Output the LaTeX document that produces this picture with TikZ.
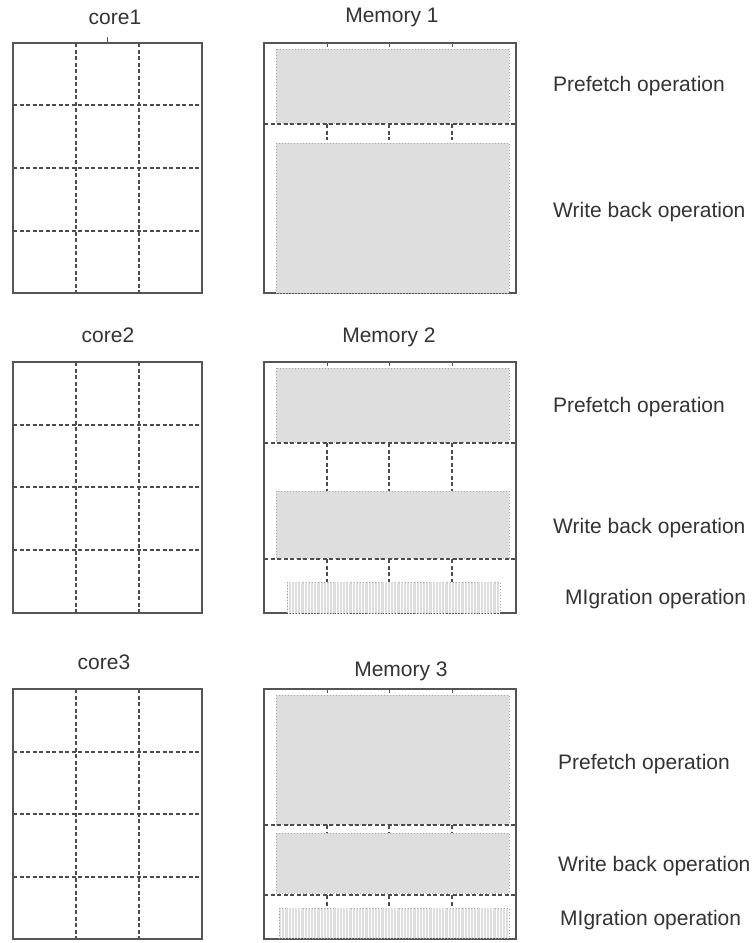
\documentclass[tikz,border=0pt]{standalone}
\usepackage{fontspec}
\setmainfont{Liberation Sans}
\usetikzlibrary{patterns.meta}
\definecolor{ink}{HTML}{333333}
\definecolor{frame}{HTML}{555555}
\definecolor{shade}{HTML}{DEDEDE}
\definecolor{shadeedge}{HTML}{A8A8A8}
\begin{document}
\begin{tikzpicture}[x=1pt,y=-1pt,
  lbl/.style={text=ink,inner sep=0pt,font=\fontsize{21}{25}\selectfont},
  oplbl/.style={lbl,anchor=west},
  boxline/.style={draw=frame,line width=1.4pt},
  gridline/.style={draw=frame!90!black,line width=1.1pt,dash pattern=on 4pt off 2.5pt},
  shaded/.style={fill=shade,draw=shadeedge,line width=1pt,dotted},
  migr/.style={fill=shade,draw=shadeedge,line width=1pt,dotted},
  stripes/.style={pattern={Lines[angle=90,distance=3.2pt,line width=0.9pt]},pattern color=white},
  tick/.style={draw=frame,line width=1pt}]
\useasboundingbox (0,0) rectangle (753,943);
\fill[white] (0,0) rectangle (753,943);

% ---------- cores ----------
\node[lbl] (core1) at (115,17) {core1};
\node[lbl] (core2) at (108,335) {core2};
\node[lbl] (core3) at (104,662) {core3};

\foreach \top/\bot/\ha/\hb/\hc in {43/293/105/168/231, 362/613/425/487/550, 689/939/752/814/877}{
  \foreach \hy in {\ha,\hb,\hc}
    \path[gridline] (13,\hy) -- (202,\hy);
  \foreach \vx in {76,139}
    \path[gridline] (\vx,\top) -- (\vx,\bot);
  \path[boxline] (13,\top) rectangle (202,\bot);
}
\path[tick] (107,37) -- (107,43);

% ---------- memory labels ----------
\node[lbl] (mem1) at (392,17) {Memory 1};
\node[lbl] (mem2) at (389,337) {Memory 2};
\node[lbl] (mem3) at (401,671) {Memory 3};

% ---------- Memory 1 ----------
\path[boxline] (264,43) rectangle (516,293);
\foreach \vx in {327,389,452} \path[tick] (\vx,43) -- (\vx,47);
\path[shaded] (276,49) rectangle (509,123);
\path[gridline] (264,124) -- (516,124);
\foreach \vx in {327,389,452} \path[gridline] (\vx,124) -- (\vx,140);
\path[shaded] (276,143) rectangle (509,293);

% ---------- Memory 2 ----------
\path[boxline] (264,362) rectangle (516,613);
\foreach \vx in {327,389,452} \path[tick] (\vx,362) -- (\vx,366);
\path[shaded] (276,368) rectangle (509,442);
\path[gridline] (264,443) -- (516,443);
\foreach \vx in {327,389,452} \path[gridline] (\vx,443) -- (\vx,491);
\path[shaded] (276,491) rectangle (509,558);
\path[gridline] (264,559) -- (516,559);
\foreach \vx in {327,389,452} \path[gridline] (\vx,559) -- (\vx,582);
\path[migr] (287,582) rectangle (500,613);
\path[stripes] (287,582) rectangle (500,613);

% ---------- Memory 3 ----------
\path[boxline] (264,689) rectangle (516,939);
\foreach \vx in {327,389,452} \path[tick] (\vx,689) -- (\vx,693);
\path[shaded] (276,695) rectangle (509,824);
\path[gridline] (264,825) -- (516,825);
\foreach \vx in {327,389,452} \path[gridline] (\vx,825) -- (\vx,833);
\path[shaded] (276,833) rectangle (509,893);
\path[gridline] (264,895) -- (516,895);
\foreach \vx in {327,389,452} \path[gridline] (\vx,895) -- (\vx,908);
\path[migr] (279,908) rectangle (509,938);
\path[stripes] (279,908) rectangle (509,938);

% ---------- operation labels ----------
\node[oplbl] (pf1) at (553,86) {Prefetch operation};
\node[oplbl] (wb1) at (553,212) {Write back operation};
\node[oplbl] (pf2) at (553,407) {Prefetch operation};
\node[oplbl] (wb2) at (553,528) {Write back operation};
\node[oplbl] (mg2) at (565,599) {MIgration operation};
\node[oplbl] (pf3) at (558,764) {Prefetch operation};
\node[oplbl] (wb3) at (558,866) {Write back operation};
\node[oplbl] (mg3) at (560,920) {MIgration operation};
\end{tikzpicture}
\end{document}
